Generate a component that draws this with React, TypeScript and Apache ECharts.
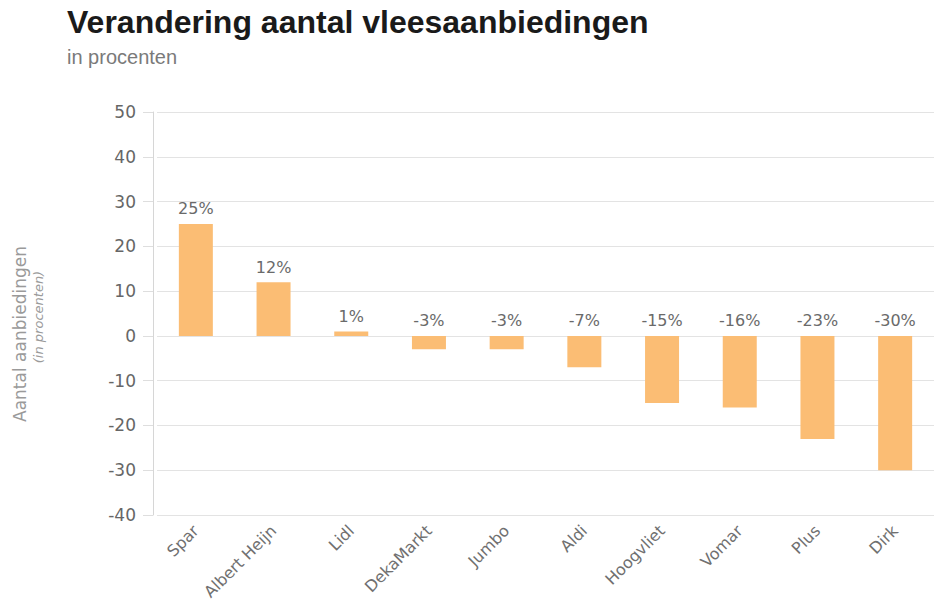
import React, { useEffect, useRef } from "react";
import * as echarts from "echarts";

const categories = ["Spar", "Albert Heijn", "Lidl", "DekaMarkt", "Jumbo", "Aldi", "Hoogvliet", "Vomar", "Plus", "Dirk"];
const changes = [25, 12, 1, -3, -3, -7, -15, -16, -23, -30];
const yMin = -40;
const yMax = 50;
const yInterval = 10;

const FONT = "'DejaVu Sans', sans-serif";
const TITLE_FONT = "'Liberation Sans', Arial, sans-serif";

export default function App() {
  const ref = useRef<HTMLDivElement>(null);
  useEffect(() => {
    document.body.style.margin = "0";
    const chart = echarts.init(ref.current!, null, { renderer: "svg" });
    chart.setOption({
      animation: false,
      backgroundColor: "#ffffff",
      title: {
        text: "Verandering aantal vleesaanbiedingen",
        subtext: "in procenten",
        left: 62,
        top: 1,
        itemGap: 9,
        textStyle: { fontFamily: TITLE_FONT, fontSize: 32, fontWeight: "bold", color: "#1a1a1a" },
        subtextStyle: { fontFamily: TITLE_FONT, fontSize: 20, fontWeight: 400, color: "#7a7a7a" },
      },
      grid: { left: 157, right: 6, top: 112, bottom: 101, containLabel: false },
      xAxis: {
        type: "category",
        data: categories,
        axisLine: { show: false },
        axisTick: { show: false },
        axisLabel: {
          interval: 0,
          rotate: 45,
          margin: 13,
          fontFamily: FONT,
          fontSize: 16,
          color: "#707070",
        },
      },
      yAxis: {
        type: "value",
        min: yMin,
        max: yMax,
        interval: yInterval,
        offset: 4,
        axisLine: { show: true, lineStyle: { color: "#d6d6d6", width: 1 } },
        axisTick: { show: true, length: 10, lineStyle: { color: "#dedede" } },
        splitLine: { show: true, lineStyle: { color: "#e3e3e3", width: 1 } },
        axisLabel: { margin: 17, fontFamily: FONT, fontSize: 17, color: "#666666" },
      },
      series: [
        {
          type: "bar",
          data: changes,
          barWidth: 34,
          itemStyle: { color: "#fbbd74" },
          label: {
            show: true,
            position: "top",
            distance: 7,
            formatter: "{c}%",
            fontFamily: FONT,
            fontSize: 16,
            color: "#6a6a6a",
          },
        },
      ],
      graphic: [
        {
          type: "text",
          x: 20,
          y: 334,
          rotation: Math.PI / 2,
          style: {
            text: "Aantal aanbiedingen",
            fontFamily: FONT,
            fontSize: 17,
            fill: "#9a9a9a",
            align: "center",
            verticalAlign: "middle",
          },
        },
        {
          type: "text",
          x: 38,
          y: 317,
          rotation: Math.PI / 2,
          style: {
            text: "(in procenten)",
            fontFamily: FONT,
            fontSize: 13,
            fontStyle: "italic",
            fill: "#9a9a9a",
            align: "center",
            verticalAlign: "middle",
          },
        },
      ],
    });
    return () => chart.dispose();
  }, []);
  return <div ref={ref} style={{ width: 940, height: 616 }} />;
}
